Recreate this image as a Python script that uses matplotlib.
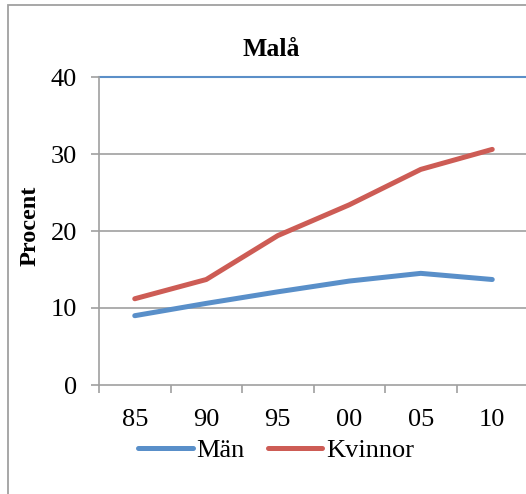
import matplotlib.pyplot as plt
from matplotlib.patches import Rectangle

# Données
annees = ["85", "90", "95", "00", "05", "10"]
man = [9.0, 10.6, 12.1, 13.5, 14.5, 13.7]
kvinnor = [11.2, 13.7, 19.4, 23.4, 28.0, 30.6]
y_ticks = [0, 10, 20, 30, 40]

W, H = 526, 494
plt.rcParams['font.family'] = ['Liberation Serif', 'DejaVu Serif']

fig = plt.figure(figsize=(W / 100, H / 100), dpi=100)

# Cadre du graphique (coupé à droite et en bas)
fig.patches.append(Rectangle((8 / W, -0.2), 1.2, 1.2 - 5 / H,
                             transform=fig.transFigure, fill=False,
                             edgecolor="#A0A0A0", lw=1.3))

ax = fig.add_axes([99 / W, 1 - 385 / H, (528 - 99) / W, (385 - 77) / H])
x = list(range(len(annees)))
ax.plot(x, man, color="#598FC9", lw=3.6, solid_capstyle="round", label="Män")
ax.plot(x, kvinnor, color="#CD5C55", lw=3.6, solid_capstyle="round", label="Kvinnor")

ax.set_xlim(-0.5, len(annees) - 0.5)
ax.set_ylim(0, 40)
ax.set_yticks(y_ticks)
for v in y_ticks[1:-1]:
	ax.axhline(v, color="#A0A0A0", lw=1.2, zorder=0)
ax.axhline(40, color="#5B8FC8", lw=1.5, zorder=0, clip_on=False)

# Axe des x : graduations entre les catégories, étiquettes au centre
ax.set_xticks([i - 0.5 for i in range(len(annees) + 1)])
ax.set_xticklabels([])
ax.set_xticks(x, minor=True)
ax.set_xticklabels(annees, minor=True)
ax.tick_params(axis="x", which="major", length=6, color="#A0A0A0", width=1.2)
ax.tick_params(axis="x", which="minor", length=0, pad=17, labelsize=19)
ax.tick_params(axis="y", length=6, color="#A0A0A0", width=1.2, pad=10, labelsize=19)

for s in ["top", "right"]:
	ax.spines[s].set_visible(False)
for s in ["left", "bottom"]:
	ax.spines[s].set_color("#A0A0A0")
	ax.spines[s].set_linewidth(1.2)

fig.text(271 / W, 1 - 50 / H, "Malå", ha="center", va="center", fontsize=18.5, fontweight="bold")
fig.text(30 / W, 1 - 226 / H, "Procent", ha="center", va="center", rotation=90,
		 fontsize=17.5, fontweight="bold")

fig.legend(loc="center", bbox_to_anchor=(276 / W, 1 - 450 / H), ncol=2, frameon=False,
		   fontsize=19, handlelength=2.08, handletextpad=0.13, columnspacing=0.87,
		   borderaxespad=0, borderpad=0)

fig.savefig("out.png", dpi=100)
